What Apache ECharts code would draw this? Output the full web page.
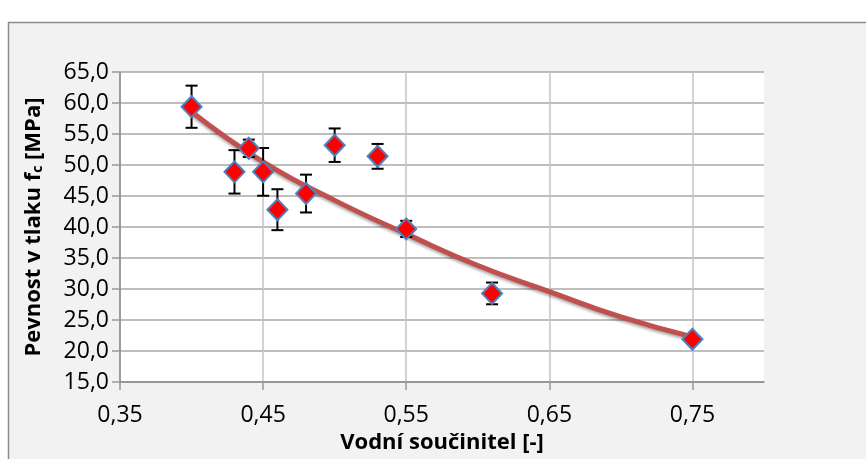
<!DOCTYPE html>
<html>
<head>
<meta charset="utf-8">
<script src="https://cdn.jsdelivr.net/npm/echarts@6/dist/echarts.min.js"></script>
<style>
html,body{margin:0;padding:0;background:#ffffff;}
#chart{width:866px;height:459px;}
</style>
</head>
<body>
<div id="chart"></div>
<script>
// Measured points
const xValues = [0.40, 0.43, 0.44, 0.45, 0.46, 0.48, 0.50, 0.53, 0.55, 0.61, 0.75];
const yValues = [59.4, 48.9, 52.7, 48.9, 42.8, 45.4, 53.2, 51.4, 39.7, 29.3, 21.9];
const yErr    = [3.4, 3.5, 1.4, 3.85, 3.3, 3.05, 2.7, 2.0, 1.3, 1.75, 0.5];
// Trend line
const trendX = [0.40, 0.45, 0.50, 0.55, 0.60, 0.65, 0.70, 0.75];
const trendY = [58.6, 50.5, 44.3, 38.9, 33.8, 29.6, 25.5, 22.3];
// Axis ticks / labels
const xTickValues = [0.35, 0.45, 0.55, 0.65, 0.75];
const xTitle = 'Vodní součinitel [-]';
const yTitleMain = 'Pevnost v tlaku f';
const yTitleSub = 'c';
const yTitleEnd = ' [MPa]';

const FONT = '"Open Sans", "Noto Sans", sans-serif';

const points = xValues.map((x, i) => [x, yValues[i]]);
const errData = xValues.map((x, i) => [x, yValues[i] - yErr[i], yValues[i] + yErr[i]]);
const trendData = trendX.map((x, i) => [x, trendY[i]]);

const chart = echarts.init(document.getElementById('chart'), null, {renderer: 'canvas'});

const option = {
  animation: false,
  backgroundColor: '#ffffff',
  graphic: [{
    type: 'rect',
    z: -10,
    silent: true,
    shape: {x: 8.5, y: 22.5, width: 900, height: 500},
    style: {fill: '#f2f2f2', stroke: '#8c8c8c', lineWidth: 1.5}
  }],
  grid: {
    left: 120, top: 72, right: 102, bottom: 74,
    show: true, backgroundColor: '#ffffff', borderWidth: 0
  },
  xAxis: {
    type: 'value', min: 0.35, max: 0.8, interval: 0.05,
    axisLine: {show: true, lineStyle: {color: '#8a8a8a', width: 1.5}},
    axisTick: {show: true, length: 8, customValues: xTickValues, lineStyle: {color: '#999999', width: 1.5}},
    splitLine: {show: true, lineStyle: {color: '#c4c4c4', width: 1.5}},
    axisLabel: {
      customValues: xTickValues,
      formatter: v => v.toFixed(2).replace('.', ','),
      color: '#000', fontFamily: FONT, fontSize: 23, margin: 22
    },
    name: xTitle, nameLocation: 'middle', nameGap: 47,
    nameTextStyle: {color: '#000', fontFamily: FONT, fontSize: 22, fontWeight: 'bold'}
  },
  yAxis: {
    type: 'value', min: 15, max: 65, interval: 5,
    axisLine: {show: true, lineStyle: {color: '#8a8a8a', width: 1.5}},
    axisTick: {show: true, length: 8, lineStyle: {color: '#999999', width: 1.5}},
    splitLine: {show: true, lineStyle: {color: '#a8a8a8', width: 1.5}},
    axisLabel: {formatter: v => v.toFixed(1).replace('.', ','), color: '#000', fontFamily: FONT, fontSize: 23, margin: 11},
    name: '{a|' + yTitleMain + '}{s|' + yTitleSub + '}{a|' + yTitleEnd + '}',
    nameLocation: 'middle', nameGap: 75,
    nameTextStyle: {
      color: '#000', fontFamily: FONT, fontSize: 22, fontWeight: 'bold',
      rich: {
        a: {color: '#000', fontFamily: FONT, fontSize: 22, fontWeight: 'bold'},
        s: {color: '#000', fontFamily: FONT, fontSize: 14, fontWeight: 'bold', verticalAlign: 'bottom', padding: [9, 0, 0, 0]}
      }
    }
  },
  series: [{
    type: 'line',
    data: trendData,
    smooth: true,
    showSymbol: false,
    z: 2,
    lineStyle: {color: '#c0504d', width: 5, shadowColor: 'rgba(0,0,0,0.35)', shadowBlur: 3, shadowOffsetY: 2}
  }, {
    type: 'custom',
    data: errData,
    z: 3,
    renderItem: function (params, api) {
      const x = api.value(0);
      const lo = api.coord([x, api.value(1)]);
      const hi = api.coord([x, api.value(2)]);
      const cap = 6;
      const st = {stroke: '#000', lineWidth: 2};
      return {
        type: 'group',
        children: [
          {type: 'line', shape: {x1: lo[0], y1: lo[1], x2: hi[0], y2: hi[1]}, style: st},
          {type: 'line', shape: {x1: lo[0] - cap, y1: lo[1], x2: lo[0] + cap, y2: lo[1]}, style: st},
          {type: 'line', shape: {x1: hi[0] - cap, y1: hi[1], x2: hi[0] + cap, y2: hi[1]}, style: st}
        ]
      };
    }
  }, {
    type: 'scatter',
    data: points,
    z: 4,
    symbol: 'diamond',
    symbolSize: [20, 21],
    itemStyle: {color: '#ff0000', borderColor: '#4f81bd', borderWidth: 2, opacity: 1}
  }]
};
chart.setOption(option);
</script>
</body>
</html>
